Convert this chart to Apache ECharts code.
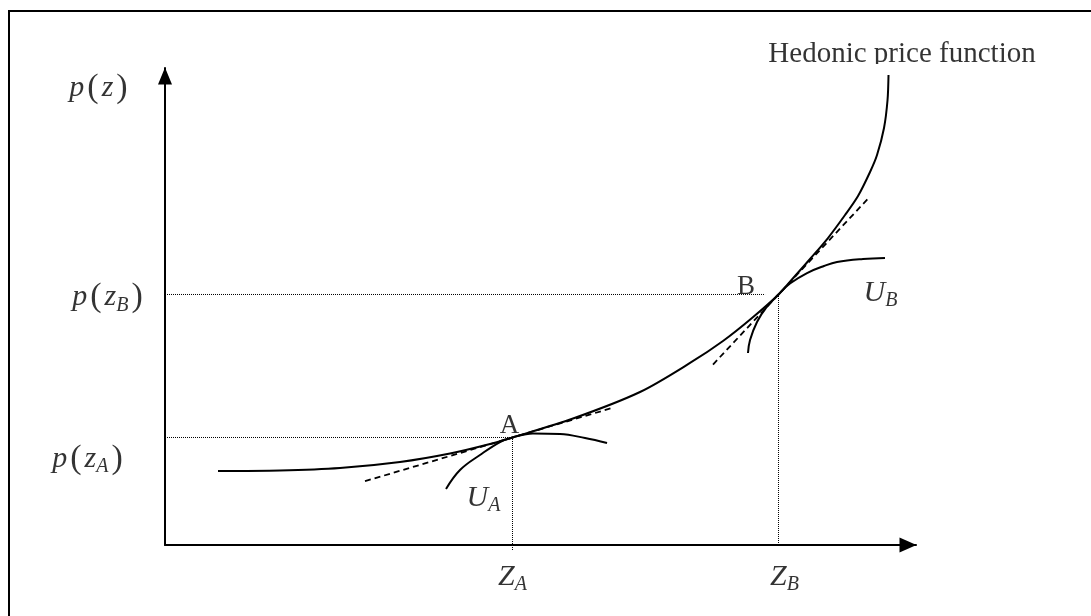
<!DOCTYPE html>
<html>
<head>
<meta charset="utf-8">
<script src="https://cdn.jsdelivr.net/npm/echarts@6/dist/echarts.min.js"></script>
<style>
  html, body { margin: 0; padding: 0; background: #fff; }
  #main { width: 1091px; height: 616px; }
</style>
</head>
<body>
<div id="main"></div>
<script>
  // hedonic price function p(z)
  var hedonicZ = [7.06, 15.31, 23.30, 31.29, 37.95, 43.28, 46.27, 54.33, 63.25, 69.91, 74.30, 78.16,
                  81.69, 83.89, 85.89, 88.28, 90.55, 92.28, 93.88, 94.81, 95.74, 96.21, 96.34];
  var hedonicP = [15.51, 15.62, 16.14, 17.40, 19.18, 21.17, 22.54, 26.52, 32.08, 38.16, 42.77, 47.59,
                  52.52, 56.39, 59.96, 64.36, 69.18, 73.17, 78.20, 81.76, 87.42, 93.29, 98.53];

  // bid curves U_A and U_B
  var uAZ = [37.42, 39.28, 41.94, 44.61, 46.27, 49.00, 52.60, 55.93, 58.86];
  var uAP = [11.74, 15.72, 18.87, 21.59, 22.54, 23.38, 23.27, 22.43, 21.38];
  var uBZ = [77.63, 77.90, 78.83, 80.03, 81.69, 83.22, 85.49, 87.75, 89.48, 92.94, 95.87];
  var uBP = [40.25, 42.98, 46.75, 49.69, 52.52, 54.82, 57.02, 58.49, 59.33, 59.96, 60.17];

  // tangent (dashed) segments at A and B
  var tanAZ = [26.63, 59.65];
  var tanAP = [13.38, 28.78];
  var tanBZ = [72.97, 93.87];
  var tanBP = [37.83, 73.04];

  // tangency points A, B
  var pointNames = ['A', 'B'];
  var pointZ = [46.27, 81.69];
  var pointP = [22.54, 52.52];

  function zip(a, b) {
    return a.map(function (v, i) { return [v, b[i]]; });
  }

  var serif = '"Liberation Serif", "Times New Roman", serif';
  var rich = {
    i: { fontFamily: serif, fontStyle: 'italic', fontSize: 30, lineHeight: 36, color: '#000' },
    br: { fontFamily: serif, fontSize: 34, lineHeight: 36, padding: [0, 3], color: '#000' },
    s: { fontFamily: serif, fontStyle: 'italic', fontSize: 20, lineHeight: 26, verticalAlign: 'bottom', color: '#000' },
    u: { fontFamily: serif, fontSize: 27, lineHeight: 30, color: '#000' }
  };

  function lbl(text, dx, dy) {
    return {
      show: true, position: 'inside', offset: [dx, dy], formatter: text, rich: rich,
      color: '#000', textBorderWidth: 0
    };
  }

  var nHed = hedonicZ.length - 1;
  var nUB = uBZ.length - 1;

  var titleLabel = lbl('Hedonic price function', 13.5, -21);
  titleLabel.fontFamily = serif;
  titleLabel.fontSize = 29;

  var labelData = [
    { value: [0, 100], label: lbl('{i|p}{br|(}{i|z}{br|)}', -65, 20) },
    { value: [0, pointP[1]], label: lbl('{i|p}{br|(}{i|z}{s|B}{br|)}', -56, 3) },
    { value: [0, pointP[0]], label: lbl('{i|p}{br|(}{i|z}{s|A}{br|)}', -76, 21.5) },
    { value: [pointZ[0], 0], label: lbl('{i|Z}{s|A}', 0, 32) },
    { value: [pointZ[1], 0], label: lbl('{i|Z}{s|B}', 6, 32) },
    { value: [pointZ[0], pointP[0]], label: lbl('{u|' + pointNames[0] + '}', -3, -11.5) },
    { value: [pointZ[1], pointP[1]], label: lbl('{u|' + pointNames[1] + '}', -32.5, -7.5) },
    { value: [uAZ[0], uAP[0]], label: lbl('{i|U}{s|A}', 37.5, 9) },
    { value: [uBZ[nUB], uBP[nUB]], label: lbl('{i|U}{s|B}', -4.5, 35) },
    { value: [hedonicZ[nHed], hedonicP[nHed]], label: titleLabel }
  ];

  var solid = { color: '#000', width: 2 };
  var dashed = { color: '#000', width: 1.8, type: [6, 4] };
  var dotted = { color: '#000', width: 1, type: [1, 1] };

  function curve(name, data, style, smooth) {
    return {
      name: name, type: 'line', data: data, smooth: smooth || false,
      showSymbol: false, symbol: 'none', clip: false,
      lineStyle: style, silent: true
    };
  }

  var chart = echarts.init(document.getElementById('main'));
  chart.setOption({
    animation: false,
    backgroundColor: '#fff',
    grid: { left: 165, right: 175, top: 68, bottom: 71 },
    xAxis: {
      type: 'value', min: 0, max: 100,
      axisLine: {
        show: true, onZero: false,
        symbol: ['none', 'triangle'], symbolSize: [15, 17], symbolOffset: [0, -8],
        lineStyle: { color: '#000', width: 2 }
      },
      axisTick: { show: false }, axisLabel: { show: false }, splitLine: { show: false }
    },
    yAxis: {
      type: 'value', min: 0, max: 100,
      axisLine: {
        show: true, onZero: false,
        symbol: ['none', 'triangle'], symbolSize: [14, 17], symbolOffset: [0, -8],
        lineStyle: { color: '#000', width: 2 }
      },
      axisTick: { show: false }, axisLabel: { show: false }, splitLine: { show: false }
    },
    graphic: [
      // frame round the figure
      { type: 'rect', z: 100, silent: true, shape: { x: 9, y: 11, width: 1200, height: 800 },
        style: { fill: 'none', stroke: '#000', lineWidth: 2 } },
      // the original cuts the bottom of the title text
      { type: 'rect', z: 100, silent: true, shape: { x: 760, y: 64, width: 290, height: 7 },
        style: { fill: '#fff' } }
    ],
    series: [
      curve('pzA', [[0, pointP[0]], [pointZ[0], pointP[0]]], dotted),
      // vertical guides drawn upwards so the dots sit on whole pixels
      curve('zA', [[pointZ[0], -1.05], [pointZ[0], pointP[0]]], dotted),
      curve('pzB', [[0, pointP[1]], [79.9, pointP[1]]], dotted),
      curve('zB', [[pointZ[1], 0], [pointZ[1], pointP[1]]], dotted),
      curve('hedonic', zip(hedonicZ, hedonicP), solid, 0.3),
      curve('UA', zip(uAZ, uAP), solid, 0.4),
      curve('UB', zip(uBZ, uBP), solid, 0.4),
      curve('tanA', zip(tanAZ, tanAP), dashed),
      curve('tanB', zip(tanBZ, tanBP), dashed),
      {
        name: 'labels', type: 'scatter', z: 10, silent: true,
        symbolSize: 1, itemStyle: { color: 'rgba(0,0,0,0)' },
        data: labelData
      }
    ]
  });
</script>
</body>
</html>
